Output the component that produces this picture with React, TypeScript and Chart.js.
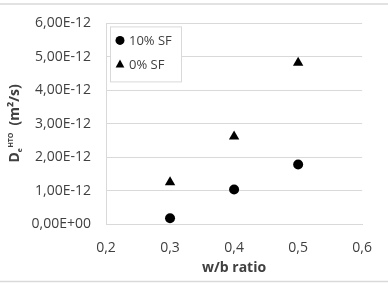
import { useEffect, useRef } from "react";
import { Chart, registerables } from "chart.js";

Chart.register(...registerables);

const xValues = [0.3, 0.4, 0.5];
const sf10Values = [0.17e-12, 1.03e-12, 1.78e-12];
const sf0Values = [1.25e-12, 2.62e-12, 4.82e-12];
const seriesLabels = ["10% SF", "0% SF"];
const yTickValues = [0, 1e-12, 2e-12, 3e-12, 4e-12, 5e-12, 6e-12];
const yTickLabels = ["0,00E+00", "1,00E-12", "2,00E-12", "3,00E-12", "4,00E-12", "5,00E-12", "6,00E-12"];
const xTickValues = [0.2, 0.3, 0.4, 0.5, 0.6];
const xTickLabels = ["0,2", "0,3", "0,4", "0,5", "0,6"];
const xTitle = "w/b ratio";
const yTitleMain = "D";
const yTitleSub = "e";
const yTitleSup = "HTO";
const yTitleUnit = "(m²/s)";

const FONT = "'Open Sans', 'Liberation Sans', sans-serif";
const TEXT = "#404040";
const GRID = "#d9d9d9";

const framePlugin = {
  id: "frame",
  beforeDraw(chart: any) {
    const ctx = chart.ctx;
    ctx.save();
    ctx.fillStyle = "#ffffff";
    ctx.fillRect(0, 0, chart.width, chart.height);
    ctx.strokeStyle = GRID;
    ctx.lineWidth = 1.5;
    ctx.beginPath();
    ctx.moveTo(0, 4);
    ctx.lineTo(chart.width, 4);
    ctx.moveTo(0, 281.5);
    ctx.lineTo(chart.width, 281.5);
    ctx.stroke();
    ctx.restore();
  },
};

const yTitlePlugin = {
  id: "yTitle",
  afterDraw(chart: any) {
    const ctx = chart.ctx;
    ctx.save();
    const big = `bold 14px ${FONT}`;
    const small = `bold 7px ${FONT}`;
    ctx.font = big;
    const wD = ctx.measureText(yTitleMain).width;
    const wU = ctx.measureText(yTitleUnit).width;
    ctx.font = small;
    const wSub = ctx.measureText(yTitleSub).width;
    const wSup = ctx.measureText(yTitleSup).width;
    const gap = 7;
    const total = wD + wSub + wSup + gap + wU;
    const cy = (chart.chartArea.top + chart.chartArea.bottom) / 2;
    ctx.translate(19, cy);
    ctx.rotate(-Math.PI / 2);
    ctx.fillStyle = TEXT;
    ctx.textBaseline = "alphabetic";
    ctx.textAlign = "left";
    let x = -total / 2;
    ctx.font = big;
    ctx.fillText(yTitleMain, x, 0);
    x += wD;
    ctx.font = small;
    ctx.fillText(yTitleSub, x, 3);
    x += wSub + 0.5;
    ctx.fillText(yTitleSup, x, -6);
    x += wSup + gap;
    ctx.font = big;
    ctx.fillText(yTitleUnit, x, 0);
    ctx.restore();
  },
};

const legendPlugin = {
  id: "boxLegend",
  afterDraw(chart: any) {
    const ctx = chart.ctx;
    const ca = chart.chartArea;
    const bx = ca.left + 4;
    const by = ca.top + 3;
    const bw = 71;
    const bh = 55;
    ctx.save();
    ctx.fillStyle = "#ffffff";
    ctx.fillRect(bx, by, bw, bh);
    ctx.strokeStyle = GRID;
    ctx.lineWidth = 1;
    ctx.strokeRect(bx + 0.5, by + 0.5, bw, bh);
    chart.data.datasets.forEach((ds: any, i: number) => {
      const cy = by + 14 + i * 24;
      const cx = bx + 10;
      ctx.fillStyle = "#000000";
      ctx.beginPath();
      if (ds.pointStyle === "triangle") {
        const r = 5;
        ctx.moveTo(cx, cy - r);
        ctx.lineTo(cx + r * 0.87, cy + r * 0.6);
        ctx.lineTo(cx - r * 0.87, cy + r * 0.6);
        ctx.closePath();
      } else {
        ctx.arc(cx, cy, 4.5, 0, Math.PI * 2);
      }
      ctx.fill();
      ctx.fillStyle = TEXT;
      ctx.font = `13px ${FONT}`;
      ctx.textBaseline = "middle";
      ctx.textAlign = "left";
      ctx.fillText(ds.label, bx + 19, cy + 1);
    });
    ctx.restore();
  },
};

export default function App() {
  const ref = useRef<HTMLCanvasElement | null>(null);
  useEffect(() => {
    document.body.style.margin = "0";
    if (!ref.current) return;
    const chart = new Chart(ref.current, {
      type: "scatter",
      data: {
        datasets: [
          {
            label: seriesLabels[0],
            data: xValues.map((x, i) => ({ x, y: sf10Values[i] })),
            pointStyle: "circle",
            pointRadius: 5,
            backgroundColor: "#000000",
            borderColor: "#000000",
            borderWidth: 0,
          },
          {
            label: seriesLabels[1],
            data: xValues.map((x, i) => ({ x, y: sf0Values[i] })),
            pointStyle: "triangle",
            pointRadius: 6,
            backgroundColor: "#000000",
            borderColor: "#000000",
            borderWidth: 0,
          },
        ],
      },
      options: {
        animation: false,
        responsive: false,
        layout: { padding: { left: 0, right: 24, top: 22, bottom: 0 } },
        plugins: {
          legend: { display: false },
          tooltip: { enabled: false },
        },
        scales: {
          x: {
            type: "linear",
            min: 0.2,
            max: 0.6,
            afterBuildTicks: (s: any) => {
              s.ticks = xTickValues.map((v) => ({ value: v }));
            },
            afterFit: (s: any) => {
              s.height = 60;
            },
            ticks: {
              callback: (_v: any, i: number) => xTickLabels[i],
              color: TEXT,
              font: { family: FONT, size: 14 },
              padding: 16,
              maxRotation: 0,
            },
            grid: { display: false, drawTicks: false },
            border: { display: true, color: GRID, width: 1 },
            title: {
              display: true,
              text: xTitle,
              color: TEXT,
              font: { family: FONT, size: 14, weight: "bold" },
              padding: { top: 2, bottom: 8 },
            },
          },
          y: {
            type: "linear",
            min: 0,
            max: 6e-12,
            afterBuildTicks: (s: any) => {
              s.ticks = yTickValues.map((v) => ({ value: v }));
            },
            afterFit: (s: any) => {
              s.width = 106;
            },
            ticks: {
              callback: (_v: any, i: number) => yTickLabels[i],
              color: TEXT,
              font: { family: FONT, size: 14 },
              padding: 15,
            },
            grid: { color: GRID, drawTicks: false, lineWidth: 1 },
            border: { display: true, color: GRID, width: 1 },
          },
        },
      },
      plugins: [framePlugin, yTitlePlugin, legendPlugin],
    });
    return () => chart.destroy();
  }, []);
  return <canvas ref={ref} width={388} height={284} style={{ display: "block" }} />;
}
